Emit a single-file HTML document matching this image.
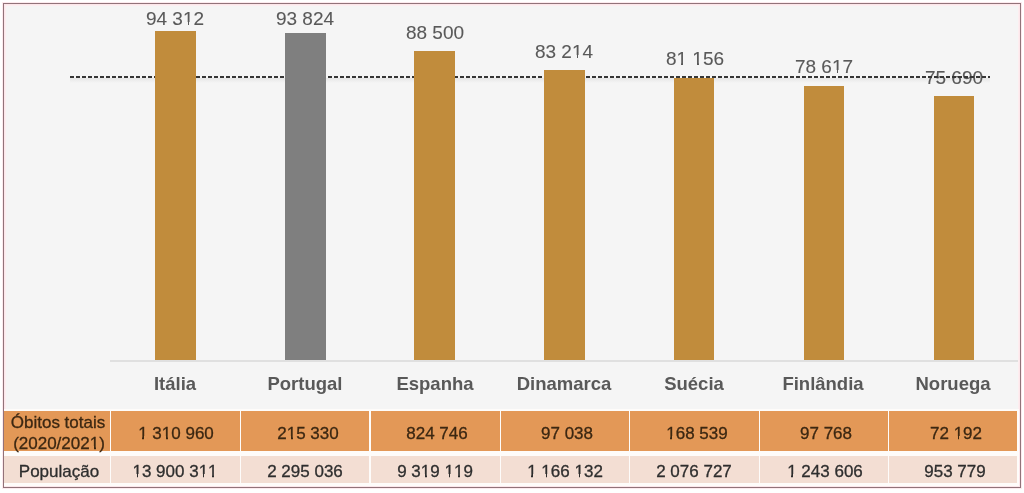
<!DOCTYPE html>
<html><head><meta charset="utf-8"><style>
*{margin:0;padding:0;box-sizing:border-box}
html,body{width:1024px;height:493px;background:#fff;overflow:hidden;font-family:"Liberation Sans",sans-serif}
#frame{position:absolute;left:3px;top:3px;width:1018px;height:485px;border:1px solid #917379;background:#f5f5f5;box-shadow:0 0 0 1px #fdeaee,inset 0 0 0 1px #fce6ea,inset 0 0 0 2px #fdeef0}
.bar{position:absolute;z-index:3}
.t{position:absolute;width:300px;text-align:center;line-height:0;white-space:nowrap;will-change:transform;-webkit-text-stroke:0.3px currentColor}
.t.nb{-webkit-text-stroke:0}
.o{position:relative}
.o::before,.o::after{content:"";position:absolute;top:0.72em;height:0.3em;background:var(--bg)}
.o::before{left:0.035em;width:0.214em}
.o::after{left:0.344em;width:0.2em}
.t.vs{-webkit-text-stroke:0.1px currentColor}
#dash{position:absolute;left:70px;top:76px;width:920px;height:2px;z-index:2;
background:repeating-linear-gradient(90deg,#363636 0 4px,transparent 4px 6px)}
#dshadow{position:absolute;left:70px;top:78px;width:920px;height:5px;z-index:0;background:linear-gradient(#e6e6e6,#f5f5f5)}
#axis{position:absolute;left:110px;top:360px;width:908px;height:2px;background:#e0e0e0}
#tbl{position:absolute;left:4px;top:409px;width:1015px;height:77px;background:#fefcfa}
.r1{position:absolute;top:411px;height:39.8px;background:#e39857}
.r2{position:absolute;top:455.5px;height:27.7px;background:#f3ded3}
</style></head><body>
<div id="frame"></div>
<div id="tbl"></div>
<div id="dshadow"></div>
<div id="dash"></div>
<div id="axis"></div>
<div class="r1" style="left:4px;width:106.20px"></div>
<div class="r2" style="left:4px;width:106.20px"></div>
<div class="r1" style="left:111.30px;width:128.30px"></div>
<div class="r2" style="left:111.30px;width:128.30px"></div>
<div class="r1" style="left:240.80px;width:128.70px"></div>
<div class="r2" style="left:240.80px;width:128.70px"></div>
<div class="r1" style="left:370.70px;width:129.10px"></div>
<div class="r2" style="left:370.70px;width:129.10px"></div>
<div class="r1" style="left:501.00px;width:127.90px"></div>
<div class="r2" style="left:501.00px;width:127.90px"></div>
<div class="r1" style="left:630.10px;width:128.60px"></div>
<div class="r2" style="left:630.10px;width:128.60px"></div>
<div class="r1" style="left:759.90px;width:128.10px"></div>
<div class="r2" style="left:759.90px;width:128.10px"></div>
<div class="r1" style="left:889.20px;width:127.80px"></div>
<div class="r2" style="left:889.20px;width:127.80px"></div>
<div class="bar" style="left:155.30px;top:30.90px;width:40.60px;height:329.10px;background:#c18c3c"></div>
<div class="bar" style="left:285.00px;top:32.80px;width:40.60px;height:327.20px;background:#7f7f7f"></div>
<div class="bar" style="left:414.30px;top:50.60px;width:40.70px;height:309.40px;background:#c18c3c"></div>
<div class="bar" style="left:544.20px;top:70.10px;width:40.60px;height:289.90px;background:#c18c3c"></div>
<div class="bar" style="left:674.10px;top:77.60px;width:40.40px;height:282.40px;background:#c18c3c"></div>
<div class="bar" style="left:804.00px;top:86.10px;width:40.00px;height:273.90px;background:#c18c3c"></div>
<div class="bar" style="left:933.50px;top:96.10px;width:40.30px;height:263.90px;background:#c18c3c"></div>
<div class="t vs" id="v0" style="left:25.30px;top:18.50px;font-size:19px;font-weight:normal;color:#595959;z-index:1;--bg:#f5f5f5">94 3<span class="o">1</span>2</div>
<div class="t vs" id="v1" style="left:154.85px;top:18.50px;font-size:19px;font-weight:normal;color:#595959;z-index:1;--bg:#f5f5f5">93 824</div>
<div class="t vs" id="v2" style="left:284.70px;top:32.50px;font-size:19px;font-weight:normal;color:#595959;z-index:1;--bg:#f5f5f5">88 500</div>
<div class="t vs" id="v3" style="left:413.85px;top:51.50px;font-size:19px;font-weight:normal;color:#595959;z-index:1;--bg:#f5f5f5">83 2<span class="o">1</span>4</div>
<div class="t vs" id="v4" style="left:544.50px;top:58.50px;font-size:19px;font-weight:normal;color:#595959;z-index:1;--bg:#f5f5f5">8<span class="o">1</span> <span class="o">1</span>56</div>
<div class="t vs" id="v5" style="left:673.70px;top:66.50px;font-size:19px;font-weight:normal;color:#595959;z-index:1;--bg:#f5f5f5">78 6<span class="o">1</span>7</div>
<div class="t vs" id="v6" style="left:803.85px;top:77.50px;font-size:19px;font-weight:normal;color:#595959;z-index:1;--bg:#f5f5f5">75 690</div>
<div class="t nb" id="c0" style="left:25.25px;top:383.50px;font-size:18.5px;font-weight:bold;color:#595959;z-index:1;--bg:#f5f5f5">Itália</div>
<div class="t nb" id="c1" style="left:154.88px;top:383.50px;font-size:18.5px;font-weight:bold;color:#595959;z-index:1;--bg:#f5f5f5">Portugal</div>
<div class="t nb" id="c2" style="left:284.51px;top:383.50px;font-size:18.5px;font-weight:bold;color:#595959;z-index:1;--bg:#f5f5f5">Espanha</div>
<div class="t nb" id="c3" style="left:414.14px;top:383.50px;font-size:18.5px;font-weight:bold;color:#595959;z-index:1;--bg:#f5f5f5">Dinamarca</div>
<div class="t nb" id="c4" style="left:543.77px;top:383.50px;font-size:18.5px;font-weight:bold;color:#595959;z-index:1;--bg:#f5f5f5">Suécia</div>
<div class="t nb" id="c5" style="left:673.40px;top:383.50px;font-size:18.5px;font-weight:bold;color:#595959;z-index:1;--bg:#f5f5f5">Finlândia</div>
<div class="t nb" id="c6" style="left:803.03px;top:383.50px;font-size:18.5px;font-weight:bold;color:#595959;z-index:1;--bg:#f5f5f5">Noruega</div>
<div class="t" id="r1_0" style="left:26.20px;top:433.50px;font-size:17px;font-weight:normal;color:#3b2712;z-index:5;--bg:#e39857"><span class="o">1</span> 3<span class="o">1</span>0 960</div>
<div class="t" id="r2_0" style="left:25.40px;top:471.50px;font-size:17px;font-weight:normal;color:#2e2e2e;z-index:5;--bg:#f3ded3"><span class="o">1</span>3 900 3<span class="o">1</span><span class="o">1</span></div>
<div class="t" id="r1_1" style="left:157.90px;top:433.50px;font-size:17px;font-weight:normal;color:#3b2712;z-index:5;--bg:#e39857">2<span class="o">1</span>5 330</div>
<div class="t" id="r2_1" style="left:155.30px;top:471.50px;font-size:17px;font-weight:normal;color:#2e2e2e;z-index:5;--bg:#f3ded3">2 295 036</div>
<div class="t" id="r1_2" style="left:287.20px;top:433.50px;font-size:17px;font-weight:normal;color:#3b2712;z-index:5;--bg:#e39857">824 746</div>
<div class="t" id="r2_2" style="left:284.50px;top:471.50px;font-size:17px;font-weight:normal;color:#2e2e2e;z-index:5;--bg:#f3ded3">9 3<span class="o">1</span>9 <span class="o">1</span><span class="o">1</span>9</div>
<div class="t" id="r1_3" style="left:417.00px;top:433.50px;font-size:17px;font-weight:normal;color:#3b2712;z-index:5;--bg:#e39857">97 038</div>
<div class="t" id="r2_3" style="left:414.80px;top:471.50px;font-size:17px;font-weight:normal;color:#2e2e2e;z-index:5;--bg:#f3ded3"><span class="o">1</span> <span class="o">1</span>66 <span class="o">1</span>32</div>
<div class="t" id="r1_4" style="left:547.00px;top:433.50px;font-size:17px;font-weight:normal;color:#3b2712;z-index:5;--bg:#e39857"><span class="o">1</span>68 539</div>
<div class="t" id="r2_4" style="left:543.80px;top:471.50px;font-size:17px;font-weight:normal;color:#2e2e2e;z-index:5;--bg:#f3ded3">2 076 727</div>
<div class="t" id="r1_5" style="left:676.20px;top:433.50px;font-size:17px;font-weight:normal;color:#3b2712;z-index:5;--bg:#e39857">97 768</div>
<div class="t" id="r2_5" style="left:674.70px;top:471.50px;font-size:17px;font-weight:normal;color:#2e2e2e;z-index:5;--bg:#f3ded3"><span class="o">1</span> 243 606</div>
<div class="t" id="r1_6" style="left:805.90px;top:433.50px;font-size:17px;font-weight:normal;color:#3b2712;z-index:5;--bg:#e39857">72 <span class="o">1</span>92</div>
<div class="t" id="r2_6" style="left:805.20px;top:471.50px;font-size:17px;font-weight:normal;color:#2e2e2e;z-index:5;--bg:#f3ded3">953 779</div>
<div class="t" id="h1" style="left:-92.50px;top:422.50px;font-size:17px;font-weight:normal;color:#3b2712;z-index:5;--bg:#e39857">Óbitos totais</div>
<div class="t" id="h2" style="left:-91.00px;top:443.50px;font-size:17px;font-weight:normal;color:#3b2712;z-index:5;--bg:#e39857">(2020/202<span class="o">1</span>)</div>
<div class="t" id="h3" style="left:-90.60px;top:471.50px;font-size:17px;font-weight:normal;color:#2e2e2e;z-index:5;--bg:#f3ded3">População</div>
</body></html>
